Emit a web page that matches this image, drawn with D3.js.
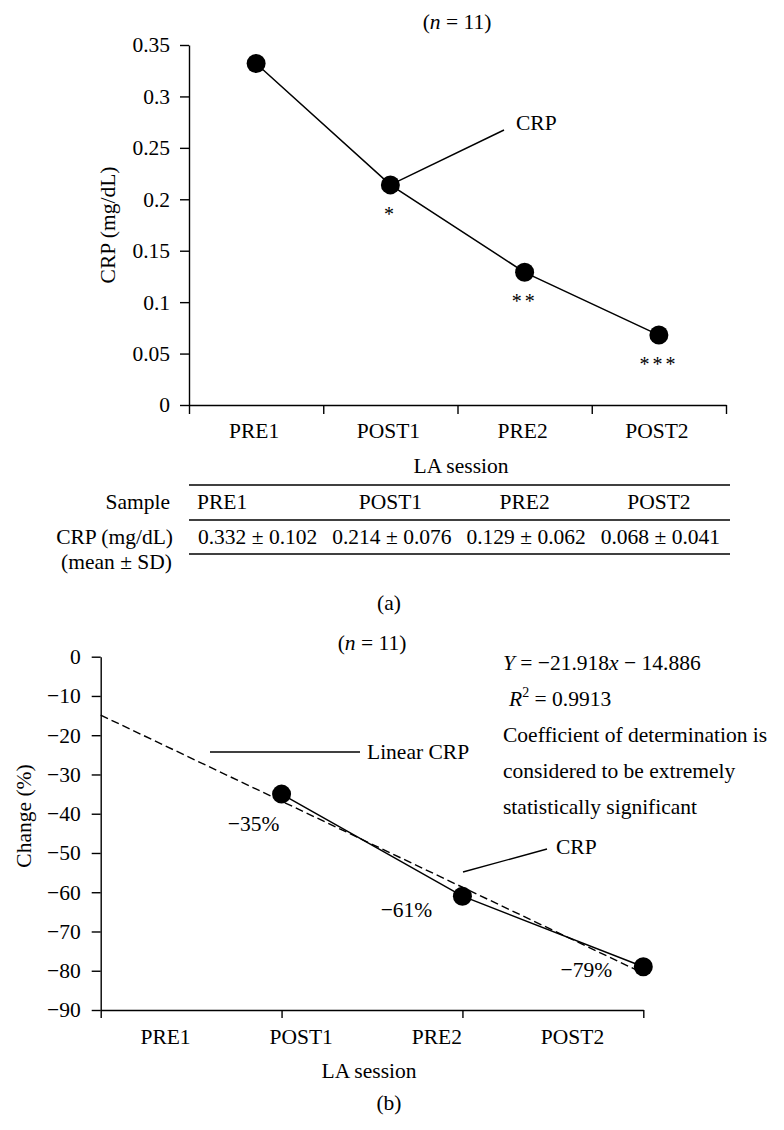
<!DOCTYPE html>
<html>
<head>
<meta charset="utf-8">
<script src="https://cdn.jsdelivr.net/npm/d3@7"></script>
<style>
  body { margin: 0; background: #fff; }
  svg { display: block; font-family: "Liberation Serif", "DejaVu Serif", serif; }
  .axis path, .axis line { stroke: #000; stroke-width: 1.4; }
  .axis text { font-family: "Liberation Serif", serif; font-size: 21.5px; fill: #000; }
  .lbl { font-size: 21.5px; fill: #000; }
</style>
</head>
<body>
<div id="chart"></div>
<script>
// panel (a) data
var sessions = ["PRE1", "POST1", "PRE2", "POST2"];
var crpMean = [0.332, 0.214, 0.129, 0.068];
var crpSD = [0.102, 0.076, 0.062, 0.041];
var stars = ["", "*", "**", "***"];
var crpTicks = [0, 0.05, 0.1, 0.15, 0.2, 0.25, 0.3, 0.35];
var crpTickLabels = ["0", "0.05", "0.1", "0.15", "0.2", "0.25", "0.3", "0.35"];

// panel (b) data
var changeIndex = [1, 2, 3];
var changePct = [-35, -61, -79];
var changeLabels = ["\u221235%", "\u221261%", "\u221279%"];
var changeTicks = [0, -10, -20, -30, -40, -50, -60, -70, -80, -90];
var changeTickLabels = ["0", "\u221210", "\u221220", "\u221230", "\u221240", "\u221250", "\u221260", "\u221270", "\u221280", "\u221290"];
var fitSlope = -21.918;
var fitIntercept = -14.886;
var fitR2 = "0.9913";

function init() {
    var w = 784;
    var h = 1130;

    var svg = d3.select("#chart").append("svg").attr("width", w).attr("height", h);
    svg.append("rect").attr("width", w).attr("height", h).attr("fill", "#fff");

    panelA(svg);
    panelB(svg);
}

function panelA(svg) {
    var left = 189, right = 726, top = 45, bottom = 405;

    var xBand = d3.scaleBand().domain(sessions).range([left, right]);
    var xEdge = d3.scaleLinear().domain([0, 4]).range([left, right]);
    var yScale = d3.scaleLinear().domain([0, 0.35]).range([bottom, top]);

    // y axis
    var yAxis = d3.axisLeft(yScale)
        .tickValues(crpTicks)
        .tickSize(9)
        .tickSizeOuter(0)
        .tickPadding(10)
        .tickFormat(function(d, i) { return crpTickLabels[i]; });
    svg.append("g").attr("class", "axis")
        .attr("transform", "translate(" + left + ",0)")
        .call(yAxis);

    // x axis: ticks at band edges, labels at band centres
    var xAxis = d3.axisBottom(xEdge).tickValues([0, 1, 2, 3, 4]).tickSize(9).tickSizeOuter(0).tickFormat("");
    svg.append("g").attr("class", "axis")
        .attr("transform", "translate(0," + bottom + ")")
        .call(xAxis);

    var xLab = svg.append("g").attr("class", "axis")
        .attr("transform", "translate(-2," + bottom + ")")
        .call(d3.axisBottom(xBand).tickSize(0).tickPadding(18));
    xLab.select(".domain").remove();

    svg.append("text").attr("class", "lbl")
        .attr("transform", "translate(115," + (top + bottom) / 2 + ") rotate(-90)")
        .attr("text-anchor", "middle")
        .text("CRP (mg/dL)");

    svg.append("text").attr("class", "lbl")
        .attr("x", 461).attr("y", 473)
        .attr("text-anchor", "middle")
        .text("LA session");

    var nt = svg.append("text").attr("class", "lbl")
        .attr("x", 457).attr("y", 29).attr("text-anchor", "middle");
    nt.append("tspan").text("(");
    nt.append("tspan").attr("font-style", "italic").text("n");
    nt.append("tspan").text(" = 11)");

    var pts = sessions.map(function(s, i) {
        return { x: xBand(s) + xBand.bandwidth() / 2, y: yScale(crpMean[i]), star: stars[i] };
    });

    var line = d3.line().x(function(d) { return d.x; }).y(function(d) { return d.y; });

    // legend leader for CRP
    svg.append("line")
        .attr("x1", pts[1].x).attr("y1", pts[1].y)
        .attr("x2", 504).attr("y2", 130)
        .attr("stroke", "#000").attr("stroke-width", 1.4);
    svg.append("text").attr("class", "lbl")
        .attr("x", 516).attr("y", 130).text("CRP");

    svg.append("path").datum(pts)
        .attr("d", line)
        .attr("fill", "none").attr("stroke", "#000").attr("stroke-width", 1.5);

    svg.selectAll(".dotA").data(pts).enter().append("circle")
        .attr("cx", function(d) { return d.x; })
        .attr("cy", function(d) { return d.y; })
        .attr("r", 9.5).attr("fill", "#000");

    svg.selectAll(".star").data(pts).enter().append("text")
        .attr("x", function(d) { return d.x; })
        .attr("y", function(d) { return d.y + 36; })
        .attr("text-anchor", "middle")
        .attr("font-size", 20)
        .attr("letter-spacing", 3)
        .text(function(d) { return d.star; });

    // table under the chart
    var tl = 189, tr = 730;
    [485, 520, 554].forEach(function(y) {
        svg.append("line").attr("x1", tl).attr("x2", tr).attr("y1", y).attr("y2", y)
            .attr("stroke", "#000").attr("stroke-width", 1.6);
    });

    svg.append("text").attr("class", "lbl").attr("x", 170).attr("y", 509)
        .attr("text-anchor", "end").text("Sample");
    svg.append("text").attr("class", "lbl").attr("x", 173).attr("y", 544)
        .attr("text-anchor", "end").text("CRP (mg/dL)");
    svg.append("text").attr("class", "lbl").attr("x", 172).attr("y", 569)
        .attr("text-anchor", "end").text("(mean \u00b1 SD)");

    svg.selectAll(".thead").data(sessions).enter().append("text")
        .attr("class", "lbl")
        .attr("x", function(d, i) { return i === 0 ? xBand(d) + 8 : xBand(d) + xBand.bandwidth() / 2; })
        .attr("y", 509)
        .attr("text-anchor", function(d, i) { return i === 0 ? "start" : "middle"; })
        .text(function(d) { return d; });

    svg.selectAll(".tval").data(sessions).enter().append("text")
        .attr("class", "lbl")
        .attr("x", function(d) { return xBand(d) + xBand.bandwidth() / 2 + 1.5; })
        .attr("y", 544)
        .attr("text-anchor", "middle")
        .text(function(d, i) { return d3.format(".3f")(crpMean[i]) + " \u00b1 " + d3.format(".3f")(crpSD[i]); });

    svg.append("text").attr("class", "lbl").attr("x", 389).attr("y", 610)
        .attr("text-anchor", "middle").text("(a)");
}

function panelB(svg) {
    var left = 100.7, right = 643.3, top = 656.7, bottom = 1010;

    var xScale = d3.scaleLinear().domain([0, 3]).range([left, right]);
    var xBand = d3.scaleBand().domain(sessions).range([left, right]);
    var yScale = d3.scaleLinear().domain([-90, 0]).range([bottom, top]);

    var yAxis = d3.axisLeft(yScale)
        .tickValues(changeTicks)
        .tickSize(9)
        .tickSizeOuter(0)
        .tickPadding(11)
        .tickFormat(function(d, i) { return changeTickLabels[i]; });
    svg.append("g").attr("class", "axis")
        .attr("transform", "translate(" + left + ",0)")
        .call(yAxis);

    svg.append("g").attr("class", "axis")
        .attr("transform", "translate(0," + bottom + ")")
        .call(d3.axisBottom(xScale).tickValues([0, 1, 2, 3]).tickSize(8).tickSizeOuter(0).tickFormat(""));

    var xLab = svg.append("g").attr("class", "axis")
        .attr("transform", "translate(-3," + bottom + ")")
        .call(d3.axisBottom(xBand).tickSize(0).tickPadding(19));
    xLab.select(".domain").remove();

    svg.append("text").attr("class", "lbl")
        .attr("transform", "translate(31,816) rotate(-90)")
        .attr("text-anchor", "middle")
        .text("Change (%)");

    svg.append("text").attr("class", "lbl")
        .attr("x", 369).attr("y", 1078).attr("text-anchor", "middle")
        .text("LA session");

    var nt = svg.append("text").attr("class", "lbl")
        .attr("x", 372).attr("y", 650).attr("text-anchor", "middle");
    nt.append("tspan").text("(");
    nt.append("tspan").attr("font-style", "italic").text("n");
    nt.append("tspan").text(" = 11)");

    // linear fit (dashed)
    var fit = [0, 3].map(function(x) { return { x: x, y: fitSlope * x + fitIntercept }; });
    var line = d3.line()
        .x(function(d) { return xScale(d.x); })
        .y(function(d) { return yScale(d.y); });

    svg.append("path").datum(fit)
        .attr("d", line)
        .attr("fill", "none").attr("stroke", "#000").attr("stroke-width", 1.4)
        .attr("stroke-dasharray", "8,4");

    var pts = changeIndex.map(function(x, i) { return { x: x, y: changePct[i], label: changeLabels[i] }; });

    svg.append("path").datum(pts)
        .attr("d", line)
        .attr("fill", "none").attr("stroke", "#000").attr("stroke-width", 1.5);

    svg.selectAll(".dotB").data(pts).enter().append("circle")
        .attr("cx", function(d) { return xScale(d.x); })
        .attr("cy", function(d) { return yScale(d.y); })
        .attr("r", 9.5).attr("fill", "#000");

    var offsets = [[-28, 37], [-56, 21], [-57, 10]];
    svg.selectAll(".pct").data(pts).enter().append("text")
        .attr("class", "lbl")
        .attr("x", function(d, i) { return xScale(d.x) + offsets[i][0]; })
        .attr("y", function(d, i) { return yScale(d.y) + offsets[i][1]; })
        .attr("text-anchor", "middle")
        .text(function(d) { return d.label; });

    // leaders
    svg.append("line").attr("x1", 210).attr("x2", 360).attr("y1", 752).attr("y2", 752)
        .attr("stroke", "#000").attr("stroke-width", 1.4);
    svg.append("text").attr("class", "lbl").attr("x", 367).attr("y", 759).text("Linear CRP");

    svg.append("line").attr("x1", 463).attr("y1", 872).attr("x2", 547).attr("y2", 849)
        .attr("stroke", "#000").attr("stroke-width", 1.4);
    svg.append("text").attr("class", "lbl").attr("x", 556).attr("y", 854).text("CRP");

    // equation block
    var eq = svg.append("text").attr("class", "lbl").attr("x", 503).attr("y", 670);
    eq.append("tspan").attr("font-style", "italic").text("Y");
    eq.append("tspan").text(" = \u2212" + Math.abs(fitSlope));
    eq.append("tspan").attr("font-style", "italic").text("x");
    eq.append("tspan").text(" \u2212 " + Math.abs(fitIntercept));

    var r2 = svg.append("text").attr("class", "lbl").attr("x", 509).attr("y", 706);
    r2.append("tspan").attr("font-style", "italic").text("R");
    r2.append("tspan").attr("font-size", 14).attr("dy", -9).text("2");
    r2.append("tspan").attr("dy", 9).text(" = " + fitR2);

    ["Coefficient of determination is", "considered to be extremely", "statistically significant"]
        .forEach(function(t, i) {
            svg.append("text").attr("class", "lbl")
                .attr("x", 503).attr("y", 742 + i * 36).text(t);
        });

    svg.append("text").attr("class", "lbl").attr("x", 389).attr("y", 1110)
        .attr("text-anchor", "middle").text("(b)");
}

window.onload = init;
</script>
</body>
</html>
